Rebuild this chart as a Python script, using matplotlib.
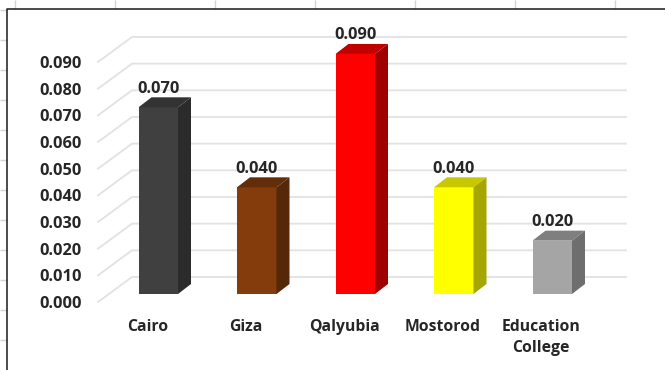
import matplotlib
matplotlib.use('Agg')
import matplotlib.pyplot as plt
from matplotlib.patches import Polygon

plt.rcParams['font.family'] = ['Open Sans', 'DejaVu Sans']

# data
places = ['Cairo', 'Giza', 'Qalyubia', 'Mostorod', 'Education\nCollege']
values = [0.070, 0.040, 0.090, 0.040, 0.020]
front_colors = ['#404040', '#843c0c', '#ff0000', '#ffff00', '#a5a5a5']
top_colors = ['#333333', '#632d09', '#c00000', '#c8c800', '#7f7f7f']
side_colors = ['#2b2b2b', '#55280a', '#a00000', '#a6a600', '#6e6e6e']
ticks = [0.00, 0.01, 0.02, 0.03, 0.04, 0.05, 0.06, 0.07, 0.08, 0.09]

# worksheet cell lines around the chart
sheet_cols = [15, 115, 215, 315, 415, 515, 615]
sheet_rows = [10, 40, 70, 100, 130, 160, 190, 220, 250, 280, 310, 340]

W, H = 665, 370
fig = plt.figure(figsize=(W / 100, H / 100), dpi=100)

bg = fig.add_axes([0, 0, 1, 1])
bg.set_xlim(0, W)
bg.set_ylim(H, 0)
bg.axis('off')
bg.vlines(sheet_cols, 0, 9, color='#d4d4d4', lw=1)
bg.hlines(sheet_rows, 0, 7, color='#d4d4d4', lw=1)
bg.plot([7, 7, W], [H, 9, 9], color='#1a1a1a', lw=1.1)

# value axes: one x unit is one category, spacing and height in pixels below
x_step = 98.5
y_step = 2667.0
x0 = 158.25
y0 = 294.0
ax = fig.add_axes([0, 0, 1, 1])
ax.patch.set_alpha(0)
ax.set_xlim(-x0 / x_step, (W - x0) / x_step)
ax.set_ylim((y0 - H) / y_step, y0 / y_step)
ax.axis('off')

bar_w = 39.5 / x_step
dx = 13 / x_step
dy = 10 / y_step

# wall and floor gridlines
floor_dx = 34 / x_step
floor_dy = 25 / y_step
left = (98 - x0) / x_step
right = (626 - x0) / x_step
front_drop = 8 / y_step
for t in ticks:
    ax.plot([left, left + floor_dx, right],
            [t - front_drop, t - front_drop + floor_dy, t - front_drop + floor_dy],
            color='#e2e2e2', lw=1.3, solid_joinstyle='miter', zorder=1)
    ax.text(left - 16 / x_step, t - front_drop - 2 / y_step, '%.3f' % t, ha='right', va='center',
            fontsize=11.8, fontweight='bold', color='#262626')

for i, v in enumerate(values):
    l = i - bar_w / 2
    r = i + bar_w / 2
    ax.add_patch(Polygon([(l, 0), (r, 0), (r, v), (l, v)], fc=front_colors[i], ec='none', zorder=3))
    ax.add_patch(Polygon([(l, v), (r, v), (r + dx, v + dy), (l + dx, v + dy)],
                         fc=top_colors[i], ec='none', zorder=3))
    ax.add_patch(Polygon([(r, 0), (r + dx, dy), (r + dx, v + dy), (r, v)],
                         fc=side_colors[i], ec='none', zorder=3))
    ax.text(i, v + dy + 8.5 / y_step, '%.3f' % v, ha='center', va='center',
            fontsize=11.8, fontweight='bold', color='#262626', zorder=4)
    ax.text(i - 11 / x_step, -25 / y_step, places[i], ha='center', va='top',
            fontsize=11.3, fontweight='bold', color='#262626', linespacing=1.45)

fig.savefig('out.png', dpi=100)
